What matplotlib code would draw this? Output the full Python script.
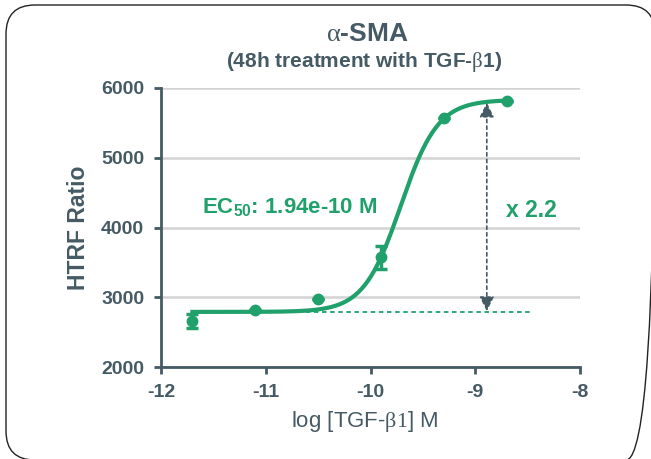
import numpy as np
import matplotlib
matplotlib.use('Agg')
import matplotlib.pyplot as plt
from matplotlib.patches import FancyBboxPatch

# data
log_conc = [-11.7, -11.1, -10.5, -9.9, -9.3, -8.7]
ratio = [2660, 2817, 2975, 3577, 5570, 5814]
ratio_err = [100, 0, 0, 165, 0, 0]

# 4PL fit parameters
bottom = 2790
top = 5830
log_ec50 = np.log10(1.94e-10)
hill = 2.45

green = '#20a06b'
grey = '#455a64'

plt.rcParams['font.family'] = ['Liberation Sans', 'DejaVu Sans']
plt.rcParams['axes.unicode_minus'] = False
plt.rcParams['mathtext.fontset'] = 'custom'
plt.rcParams['mathtext.rm'] = 'Liberation Serif'
plt.rcParams['mathtext.it'] = 'Liberation Serif:italic'
plt.rcParams['mathtext.bf'] = 'Liberation Sans:bold'

fig = plt.figure(figsize=(6.51, 4.59), dpi=100)

# rounded frame around the whole figure, drawn in pixel units
bg = fig.add_axes([0, 0, 1, 1])
bg.set_xlim(0, 651)
bg.set_ylim(459, 0)
bg.axis('off')
bg.add_patch(FancyBboxPatch((6, 5), 649, 455, boxstyle='round,pad=0,rounding_size=29',
                            fill=False, ec='#222222', lw=1.0, clip_on=False))

ax = fig.add_axes([0.2473, 0.2004, 0.6437, 0.6079])

xs = np.linspace(log_conc[0], log_conc[-1], 300)
fit = bottom + (top - bottom) / (1 + 10 ** ((log_ec50 - xs) * hill))

ax.plot([log_conc[0], -8.46], [bottom, bottom], ls=(0, (2.5, 2)), color=green, lw=1.3, zorder=3)
ax.plot(xs, fit, color=green, lw=3, zorder=4)
ax.errorbar(log_conc, ratio, yerr=ratio_err, fmt='o', color=green, ms=7.5,
            capsize=4.5, capthick=2.5, elinewidth=2.5, zorder=5)

ax.annotate('', xy=(-8.89, 5790), xytext=(-8.89, 2800),
            arrowprops=dict(arrowstyle='<|-|>', ls=(0, (2, 2)), color=grey, lw=1.2,
                            mutation_scale=22, shrinkA=0, shrinkB=0), zorder=6)

ax.text(-11.61, 4294, r'EC$_{\mathbf{50}}$: 1.94e-10 M', color=green, fontsize=16,
        fontweight='bold', ha='left', va='center')
ax.text(-8.71, 4250, 'x 2.2', color=green, fontsize=16.5, fontweight='bold',
        ha='left', va='center')

ax.set_xlim(-12, -8)
ax.set_ylim(2000, 6000)
ax.set_xticks([-12, -11, -10, -9, -8])
ax.set_yticks([2000, 3000, 4000, 5000, 6000])
ax.yaxis.grid(True, color='#d3d3d3', lw=1.8)
ax.set_axisbelow(True)
for s in ['top', 'right']:
    ax.spines[s].set_visible(False)
for s in ['left', 'bottom']:
    ax.spines[s].set_color(grey)
    ax.spines[s].set_linewidth(2)
ax.tick_params(colors=grey, width=2, length=5, labelsize=14, pad=7)
for lab in ax.get_xticklabels() + ax.get_yticklabels():
    lab.set_fontweight('bold')

ax.set_ylabel('HTRF Ratio', fontsize=16.5, fontweight='bold', color=grey, va='center')
ax.yaxis.set_label_coords(-0.196, 0.5)
ax.set_xlabel('log [TGF-$\\mathrm{\u03b21}$] M', fontsize=16, color=grey, va='center')
ax.xaxis.set_label_coords(0.487, -0.194)

fig.text(0.564, 0.926, '$\\mathrm{\u03b1}$-SMA', fontsize=19, color=grey,
         ha='center', va='center', fontweight='bold')
fig.text(0.559, 0.865, '(48h treatment with TGF-$\\mathrm{\u03b2}$1)', fontsize=15,
         color=grey, ha='center', va='center', fontweight='bold')

fig.savefig('out.png', dpi=100)
